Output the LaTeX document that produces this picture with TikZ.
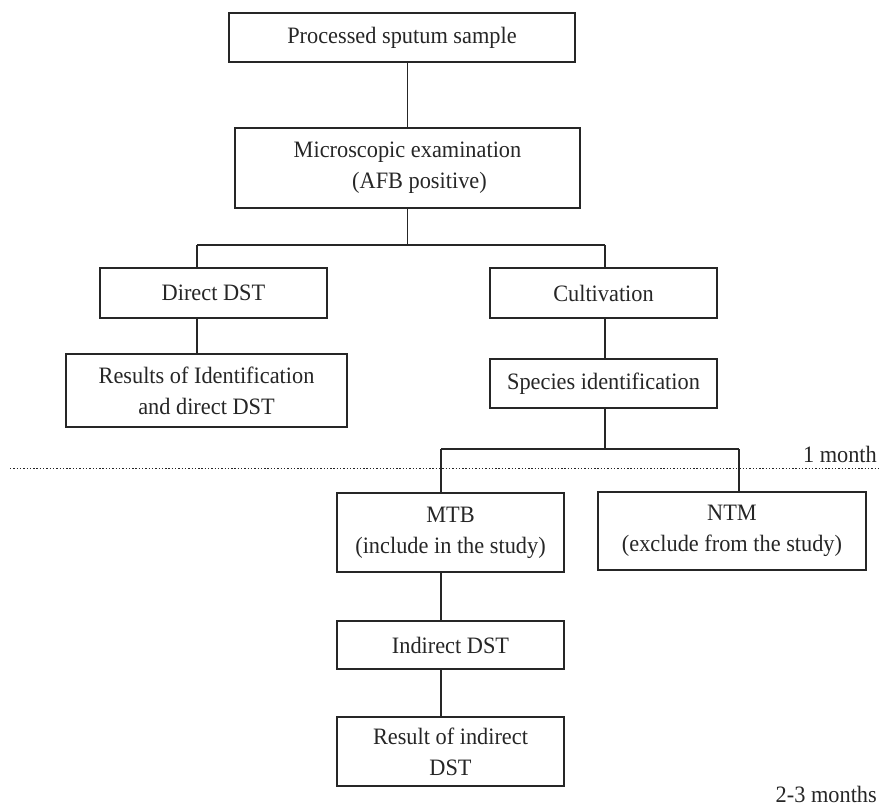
\documentclass[tikz,border=0pt]{standalone}
\usepackage{fontspec}
\setmainfont{Liberation Serif}[FakeStretch=0.95]
\begin{document}
\begin{tikzpicture}[x=1pt,y=1pt,
  box/.style={draw=ink,line width=1.2pt,rectangle,inner sep=0pt,align=center,
    font=\fontsize{23.5}{31}\selectfont,text=ink},
  conn/.style={draw=ink,line width=1.2pt},
  lbl/.style={inner sep=0pt,font=\fontsize{23.5}{31}\selectfont,text=ink},
  timeline/.style={draw=ink,line width=1pt,dash pattern=on 1.4pt off 1.9pt}]
\definecolor{ink}{HTML}{262626}
\useasboundingbox[fill=white] (0,0) rectangle (881,-808);
% boxes
\node[box,minimum width=346pt,minimum height=49pt] (b1) at (402,-37.5) {Processed sputum sample};
\node[box,minimum width=345pt,minimum height=80pt] (b2) at (407.5,-168) {Microscopic examination\\\hspace*{24pt}(AFB positive)};
\node[box,minimum width=227pt,minimum height=50pt] (dst) at (213.5,-293) {Direct DST};
\node[box,minimum width=281pt,minimum height=73pt] (res) at (206.5,-390.5) {Results of Identification\\and direct DST};
\node[box,minimum width=227pt,minimum height=50pt] (cult) at (603.5,-293) {Cultivation};
\node[box,minimum width=227pt,minimum height=49pt] (spec) at (603.5,-383.5) {Species identification};
\node[box,minimum width=227pt,minimum height=79pt] (mtb) at (450.5,-532.5) {MTB\\(include in the study)};
\node[box,minimum width=268pt,minimum height=78pt] (ntm) at (732,-531) {NTM\\(exclude from the study)};
\node[box,minimum width=227pt,minimum height=48pt] (ind) at (450.5,-645) {Indirect DST};
\node[box,minimum width=227pt,minimum height=69pt] (rind) at (450.5,-751.5) {Result of indirect\\DST};
% junctions
\coordinate (jl) at (197,-245);
\coordinate (jr) at (605,-245);
\coordinate (kl) at (441,-449);
\coordinate (kr) at (739,-449);
% connectors
\draw[conn] (b2.north) -- (b2.north |- b1.south);
\draw[conn] (b2.south) -- (b2.south |- jl);
\draw[conn] (jl) -- (jr);
\draw[conn] (jl) -- (jl |- dst.north);
\draw[conn] (jr) -- (jr |- cult.north);
\draw[conn] (jl |- dst.south) -- (jl |- res.north);
\draw[conn] (jr |- cult.south) -- (jr |- spec.north);
\draw[conn] (jr |- spec.south) -- (jr |- kl);
\draw[conn] (kl) -- (kr);
\draw[conn] (kl) -- (kl |- mtb.north);
\draw[conn] (kr) -- (kr |- ntm.north);
\draw[conn] (kl |- mtb.south) -- (kl |- ind.north);
\draw[conn] (kl |- ind.south) -- (kl |- rind.north);
% time line
\coordinate (t0) at (10,-468);
\coordinate (t1) at (881,-468);
\draw[timeline] (t0) -- (t1);
\node[lbl,anchor=base east] (m1) at (877,-462) {1 month};
\node[lbl,anchor=base east] (m2) at (877,-802) {2-3 months};
\end{tikzpicture}
\end{document}
